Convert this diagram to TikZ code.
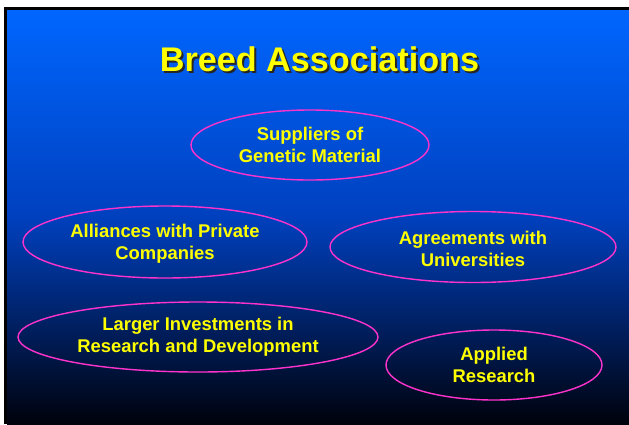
\documentclass[tikz,border=0pt]{standalone}
\usepackage{fontspec}
\setmainfont{Liberation Sans}
\definecolor{slidetop}{RGB}{0,102,255}
\definecolor{slidemid}{RGB}{0,64,190}
\definecolor{slidebot}{RGB}{0,2,12}
\definecolor{ringpink}{RGB}{255,51,204}
\definecolor{txtyellow}{RGB}{255,255,0}
\begin{document}
\begin{tikzpicture}[x=1pt,y=-1pt,
  oval/.style={draw=ringpink,line width=1.4pt},
  ovaltext/.style={text=txtyellow,font=\fontsize{18.4}{22}\selectfont\bfseries,align=center,inner sep=0pt}]
\useasboundingbox (0,0) rectangle (629,424);
\fill[white] (0,0) rectangle (629,424);
\fill[black] (4,7) rectangle (629,424);
\shade[top color=slidetop,bottom color=slidebot,middle color=slidemid] (7,10) rectangle (629,424);
% title
\node[text=black!85,font=\fontsize{34.2}{38}\selectfont\bfseries] at (321.5,61.5) {Breed Associations};
\node (title) [text=txtyellow,font=\fontsize{34.2}{38}\selectfont\bfseries] at (319.5,59.5) {Breed Associations};
% ellipses
\draw[oval] (310,145) ellipse [x radius=119,y radius=35];
\node (sup) [ovaltext] at (310,145) {Suppliers of\\Genetic Material};
\draw[oval] (165,242) ellipse [x radius=142,y radius=36];
\node (all) [ovaltext] at (165,244) {Alliances with Private\\Companies};
\draw[oval] (473,247) ellipse [x radius=143,y radius=35.5];
\node (agr) [ovaltext] at (473,249) {Agreements with\\Universities};
\draw[oval] (198,337) ellipse [x radius=180,y radius=35];
\node (lar) [ovaltext] at (198,337) {Larger Investments in\\Research and Development};
\draw[oval] (494,365) ellipse [x radius=108,y radius=35];
\node (app) [ovaltext] at (494,365) {Applied\\Research};
\end{tikzpicture}
\end{document}
